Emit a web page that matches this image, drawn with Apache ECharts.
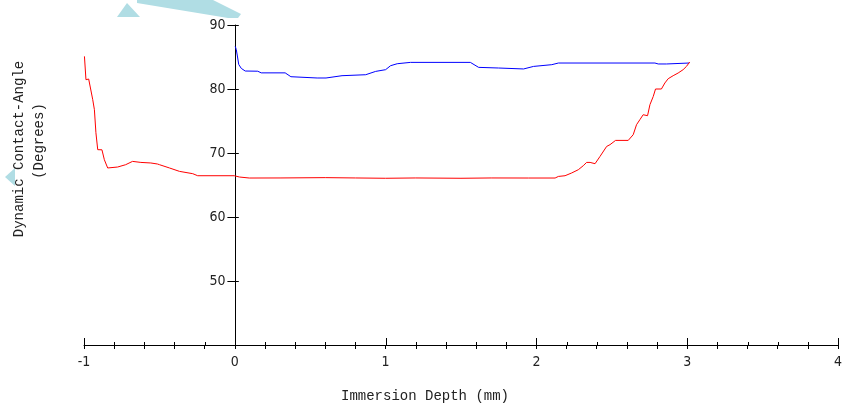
<!DOCTYPE html>
<html>
<head>
<meta charset="utf-8">
<script src="https://cdn.jsdelivr.net/npm/echarts@6/dist/echarts.min.js"></script>
<style>
  html, body { margin: 0; padding: 0; background: #fff; }
  #chart { width: 845px; height: 404px; }
</style>
</head>
<body>
<div id="chart"></div>
<script>
// depth (mm) / angle (degrees)
var redDepth = [-0.997,-0.987,-0.969,-0.958,-0.942,-0.931,-0.921,-0.909,-0.898,-0.881,-0.865,-0.843,-0.777,-0.724,-0.678,-0.623,-0.557,-0.513,-0.499,-0.433,-0.367,-0.279,-0.246,-0.003,0.030,0.096,0.3,0.6,0.8,1.0,1.2,1.5,1.7,1.948,2.124,2.146,2.19,2.234,2.278,2.311,2.333,2.356,2.389,2.422,2.466,2.488,2.525,2.609,2.642,2.664,2.686,2.708,2.737,2.753,2.775,2.79,2.829,2.852,2.874,2.907,2.94,2.973,2.995,3.017];
var redAngle = [85.1,81.45,81.56,81.34,78.33,76.77,73.17,70.52,70.52,70.5,68.95,67.66,67.81,68.17,68.69,68.53,68.44,68.28,68.17,67.66,67.13,66.77,66.45,66.45,66.25,66.09,66.1,66.15,66.1,66.05,66.1,66.05,66.1,66.09,66.09,66.34,66.45,66.88,67.39,68.02,68.53,68.53,68.33,69.47,71.03,71.3,71.97,71.97,72.86,74.42,75.2,75.98,75.83,77.55,78.84,80.0,80.0,80.94,81.61,82.08,82.5,83.02,83.53,84.22];

var blueDepth = [0.003,0.010,0.017,0.026,0.043,0.069,0.152,0.175,0.334,0.372,0.546,0.605,0.711,0.868,0.934,1.0,1.033,1.077,1.165,1.562,1.617,1.749,1.915,1.981,2.102,2.146,2.786,2.808,2.862,2.874,3.013];
var blueAngle = [86.66,86.14,85.16,83.84,83.22,82.81,82.78,82.52,82.52,81.92,81.72,81.72,82.08,82.23,82.75,83.02,83.64,83.95,84.16,84.16,83.38,83.28,83.13,83.53,83.8,84.06,84.06,83.91,83.91,84.06,84.06];

var xTicks = [-1, 0, 1, 2, 3, 4];
var yTicks = [40, 50, 60, 70, 80, 90];
var xMinorSplit = 5;

function zip(a, b) {
    var out = [];
    for (var i = 0; i < a.length; i++) out.push([a[i], b[i]]);
    return out;
}

// the ticks cross the axis lines: the axes draw one half, these the other
var xTickMarks = [];
for (var i = 0; i < xTicks.length - 1; i++) {
    for (var k = 0; k < xMinorSplit; k++) {
        xTickMarks.push([xTicks[i] + k * (xTicks[i + 1] - xTicks[i]) / xMinorSplit, k === 0 ? 7 : 3]);
    }
}
xTickMarks.push([xTicks[xTicks.length - 1], 7]);
var yTickMarks = yTicks.slice(1).map(function (v) { return [0, v]; });

var labelFont = {
    color: '#222',
    fontFamily: 'DejaVu Sans Condensed, Liberation Sans, sans-serif',
    fontSize: 14
};
var titleFont = 'Liberation Mono, DejaVu Sans Mono, monospace';
var wm = '#b0dde4';

var chart = echarts.init(document.getElementById('chart'));
var gridLeft = 84, gridWidth = 757;
var zeroOffset = -gridWidth * (0 - xTicks[0]) / (xTicks[xTicks.length - 1] - xTicks[0]);

chart.setOption({
    animation: false,
    backgroundColor: '#fff',
    grid: { left: gridLeft, top: 25, width: gridWidth, height: 320, containLabel: false },
    xAxis: {
        type: 'value',
        min: xTicks[0],
        max: xTicks[xTicks.length - 1],
        interval: 1,
        axisLine: { onZero: false, lineStyle: { color: '#000', width: 1 } },
        axisTick: { show: true, length: 4, lineStyle: { color: '#000' } },
        minorTick: { show: true, splitNumber: xMinorSplit, length: 4, lineStyle: { color: '#000' } },
        axisLabel: Object.assign({ margin: 10 }, labelFont),
        splitLine: { show: false }
    },
    yAxis: {
        type: 'value',
        min: yTicks[0],
        max: yTicks[yTicks.length - 1],
        interval: 10,
        offset: zeroOffset,
        axisLine: { show: true, onZero: false, lineStyle: { color: '#000', width: 1 } },
        axisTick: { show: true, length: 8, lineStyle: { color: '#000' } },
        axisLabel: Object.assign({ margin: 10, showMinLabel: false }, labelFont),
        splitLine: { show: false }
    },
    graphic: [
        { type: 'polygon', shape: { points: [[117, 17], [127, 3], [140, 17]] }, style: { fill: wm }, z: 0 },
        { type: 'polygon', shape: { points: [[137, 0], [213, 0], [241, 14], [238, 18], [228, 18], [137, 3]] }, style: { fill: wm }, z: 0 },
        { type: 'polygon', shape: { points: [[5, 177], [15, 168], [15, 186]] }, style: { fill: wm }, z: 0 },
        {
            type: 'text', x: 425, y: 396,
            style: { text: 'Immersion Depth (mm)', font: '14px ' + titleFont, fill: '#222', align: 'center', verticalAlign: 'middle' }
        },
        {
            type: 'text', x: 19, y: 149, rotation: Math.PI / 2,
            style: { text: 'Dynamic Contact-Angle', font: '14px ' + titleFont, fill: '#222', align: 'center', verticalAlign: 'middle' }
        },
        {
            type: 'text', x: 39, y: 141, rotation: Math.PI / 2,
            style: { text: '(Degrees)', font: '14px ' + titleFont, fill: '#222', align: 'center', verticalAlign: 'middle' }
        }
    ],
    series: [
        {
            name: 'Advancing',
            type: 'line',
            data: zip(blueDepth, blueAngle),
            showSymbol: false,
            lineStyle: { color: '#0000ff', width: 1 },
            z: 3
        },
        {
            name: 'Receding',
            type: 'line',
            data: zip(redDepth, redAngle),
            showSymbol: false,
            lineStyle: { color: '#ff0000', width: 1 },
            z: 4
        },
        {
            type: 'custom',
            silent: true,
            clip: false,
            data: xTickMarks,
            renderItem: function (params, api) {
                var p = api.coord([api.value(0), yTicks[0]]);
                var x = Math.round(p[0]) + 0.5;
                return {
                    type: 'line',
                    shape: { x1: x, y1: p[1], x2: x, y2: p[1] - api.value(1) },
                    style: { stroke: '#000', lineWidth: 1 }
                };
            },
            z: 5
        },
        {
            type: 'custom',
            silent: true,
            clip: false,
            data: yTickMarks,
            renderItem: function (params, api) {
                var p = api.coord([api.value(0), api.value(1)]);
                var y = Math.round(p[1]) + 0.5;
                return {
                    type: 'line',
                    shape: { x1: p[0], y1: y, x2: p[0] + 4, y2: y },
                    style: { stroke: '#000', lineWidth: 1 }
                };
            },
            z: 5
        }
    ]
});
</script>
</body>
</html>
